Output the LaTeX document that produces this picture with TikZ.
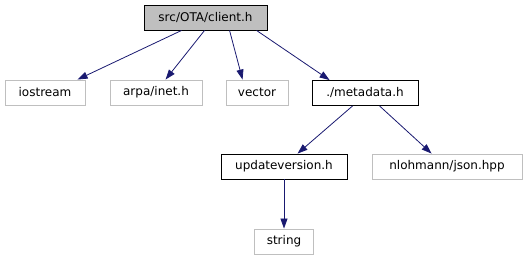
\documentclass[tikz,border=0pt]{standalone}
\usepackage{fontspec}
\setmainfont{DejaVu Sans}
\usetikzlibrary{arrows.meta,calc}
\definecolor{edgeblue}{HTML}{191970}
\definecolor{extgray}{HTML}{BFBFBF}
\tikzset{
  filebox/.style={draw=black, rectangle, minimum height=25pt, inner sep=0pt, font=\fontsize{12}{14}\selectfont, line width=0.9pt},
  extbox/.style={filebox, draw=extgray},
  mainbox/.style={filebox, fill=extgray},
  dep/.style={draw=edgeblue, line width=0.8pt, -{Triangle[length=10pt,width=7pt]}}
}
\begin{document}
\begin{tikzpicture}[x=1pt,y=-1pt]
\useasboundingbox (0,0) rectangle (524,261);
% files
\node[mainbox, minimum width=123pt] (client) at (205.5,17.5) {src/OTA/client.h};
\node[extbox, minimum width=80pt] (iostream) at (45,92.5) {iostream};
\node[extbox, minimum width=92pt] (inet) at (156,92.5) {arpa/inet.h};
\node[extbox, minimum width=62pt] (vector) at (257,92.5) {vector};
\node[filebox, minimum width=106pt] (metadata) at (365,93) {./metadata.h};
\node[filebox, minimum width=126pt] (updver) at (284,166.5) {updateversion.h};
\node[extbox, minimum width=150pt] (json) at (447,166.5) {nlohmann/json.hpp};
\node[extbox, minimum width=59pt] (string) at (284,241.5) {string};
% include edges
\draw[dep] ($(client.south west)+(38,0)$) -- ($(iostream.north west)+(73,0)$);
\draw[dep] ($(client.south west)+(61,0)$) -- ($(inet.north west)+(56,0)$);
\draw[dep] ($(client.south west)+(86,0)$) -- ($(vector.north west)+(17,0)$);
\draw[dep] ($(client.south west)+(113,0)$) -- ($(metadata.north west)+(18,0)$);
\draw[dep] ($(metadata.south west)+(41,0)$) -- ($(updver.north west)+(77,0)$);
\draw[dep] ($(metadata.south west)+(68,0)$) -- ($(json.north west)+(60,0)$);
\draw[dep] (updver.south) -- (string.north);
\end{tikzpicture}
\end{document}
